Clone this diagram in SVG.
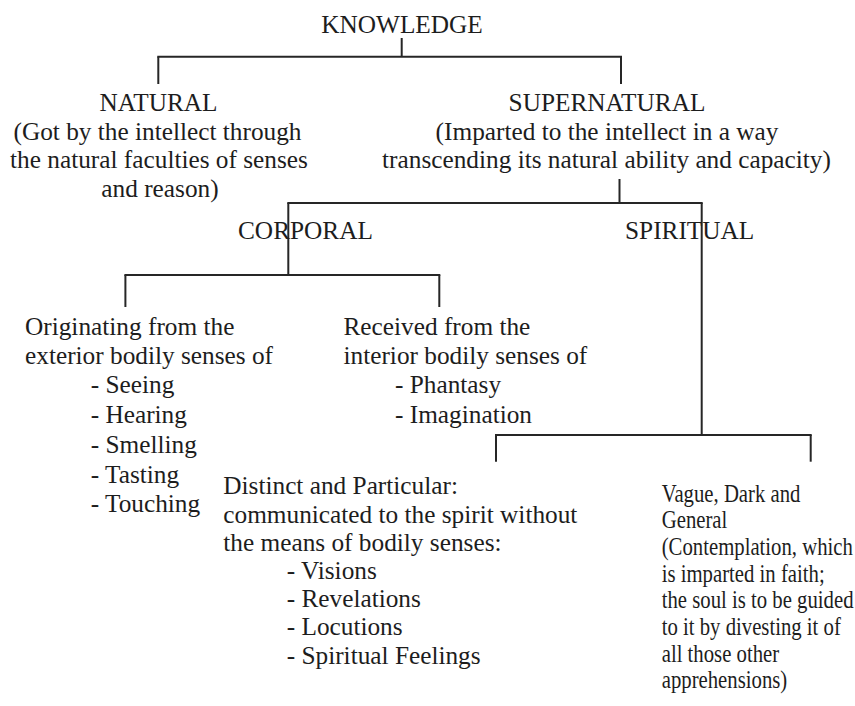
<svg xmlns="http://www.w3.org/2000/svg" width="855" height="706" viewBox="0 0 855 706">
<style>
  text { font-family: "Liberation Serif", "Times New Roman", serif; font-size: 25.3px; fill: #1d1d1d; }
  .c { text-anchor: middle; }
  .conn line { stroke: #262626; stroke-width: 2; fill: none; }
</style>
<rect x="0" y="0" width="855" height="706" fill="#ffffff"/>
<g id="connectors" class="conn">
  <line x1="401.7" y1="38" x2="401.7" y2="56.7"/>
  <line x1="157.3" y1="56.7" x2="622" y2="56.7"/>
  <line x1="158.3" y1="56.7" x2="158.3" y2="84"/>
  <line x1="621" y1="56.7" x2="621" y2="84"/>
  <line x1="619.5" y1="179" x2="619.5" y2="203"/>
  <line x1="287.3" y1="203" x2="702.7" y2="203"/>
  <line x1="288.3" y1="203" x2="288.3" y2="275"/>
  <line x1="701.7" y1="203" x2="701.7" y2="435"/>
  <line x1="124.4" y1="275" x2="440.3" y2="275"/>
  <line x1="125.4" y1="275" x2="125.4" y2="307"/>
  <line x1="439.3" y1="275" x2="439.3" y2="307"/>
  <line x1="495" y1="435" x2="811.7" y2="435"/>
  <line x1="496" y1="435" x2="496" y2="461.7"/>
  <line x1="810.7" y1="435" x2="810.7" y2="461.7"/>
</g>
<g id="knowledge">
  <text class="c" x="402" y="32.7">KNOWLEDGE</text>
</g>
<g id="natural">
  <text class="c" x="158.5" y="110.5">NATURAL</text>
  <text class="c" x="157.5" y="139.5">(Got by the intellect through</text>
  <text class="c" x="159" y="168">the natural faculties of senses</text>
  <text class="c" x="160" y="197">and reason)</text>
</g>
<g id="supernatural">
  <text class="c" x="607" y="110.5">SUPERNATURAL</text>
  <text class="c" x="607" y="139.5">(Imparted to the intellect in a way</text>
  <text class="c" x="606.5" y="168">transcending its natural ability and capacity)</text>
</g>
<g id="corporal">
  <text x="238" y="239.3">CORPORAL</text>
</g>
<g id="spiritual">
  <text x="625" y="238.5">SPIRITUAL</text>
</g>
<g id="exterior">
  <text x="25" y="335">Originating from the</text>
  <text x="25" y="363.5">exterior bodily senses of</text>
  <text x="90.7" y="393">- Seeing</text>
  <text x="90.7" y="422.5">- Hearing</text>
  <text x="90.7" y="452.5">- Smelling</text>
  <text x="90.7" y="482.5">- Tasting</text>
  <text x="90.7" y="511.5">- Touching</text>
</g>
<g id="interior">
  <text x="343.5" y="335">Received from the</text>
  <text x="343.5" y="363.5">interior bodily senses of</text>
  <text x="395" y="393">- Phantasy</text>
  <text x="395" y="422.5">- Imagination</text>
</g>
<g id="distinct">
  <text x="223.3" y="494">Distinct and Particular:</text>
  <text x="223.3" y="522.5">communicated to the spirit without</text>
  <text x="223.3" y="550.5">the means of bodily senses:</text>
  <text x="286.7" y="578.5">- Visions</text>
  <text x="286.7" y="607">- Revelations</text>
  <text x="286.7" y="635">- Locutions</text>
  <text x="286.7" y="663.5">- Spiritual Feelings</text>
</g>
<g id="vague" transform="translate(661.7,0) scale(0.82,1)">
  <text x="0" y="501.7">Vague, Dark and</text>
  <text x="0" y="528.3">General</text>
  <text x="0" y="555">(Contemplation, which</text>
  <text x="0" y="581.7">is imparted in faith;</text>
  <text x="0" y="608.3">the soul is to be guided</text>
  <text x="0" y="635">to it by divesting it of</text>
  <text x="0" y="661.7">all those other</text>
  <text x="0" y="688.3">apprehensions)</text>
</g>
</svg>
